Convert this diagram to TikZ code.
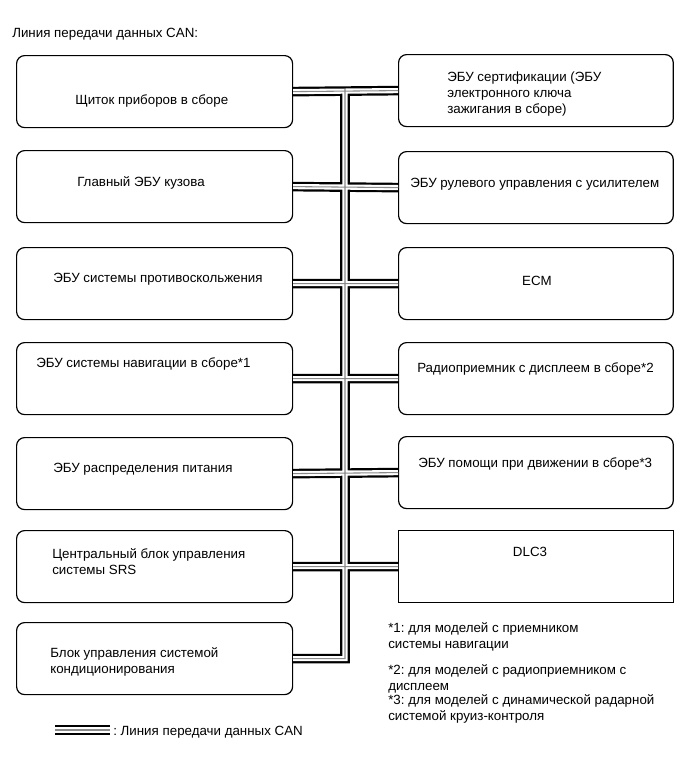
\documentclass[tikz,border=0pt]{standalone}
\usepackage{fontspec}
\setmainfont{Liberation Sans}
\frenchspacing
\usetikzlibrary{calc}
\definecolor{BusInk}{HTML}{000000}
\definecolor{BusCore}{HTML}{8A8A8A}
\tikzset{
  every node/.style={font=\fontsize{10}{12}\selectfont, text=black, inner sep=0pt},
  unit/.style={draw=black, line width=0.9pt, rounded corners=6pt, fill=white,
    anchor=north west, minimum height=54pt},
  leftunit/.style={unit, minimum width=207pt},
  rightunit/.style={unit, minimum width=206pt},
  caption/.style={anchor=base west, align=left},
  canbus/.style={draw=BusCore, line width=0.8pt,
    preaction={draw=BusInk, line width=7.2pt},
    preaction={draw=white, line width=3.9pt}},
}

\begin{document}
\begin{tikzpicture}[x=0.75pt, y=-0.75pt]
  \useasboundingbox (0,0) rectangle (690,757);
  \node[caption] (title) at (12,37) {Линия передачи данных CAN:};
  % Left column of control units
  \node[leftunit] (inst) at (16,55) {};
  \node[leftunit] (body) at (16,150) {};
  \node[leftunit] (vsc) at (16,247) {};
  \node[leftunit] (nav) at (16,342) {};
  \node[leftunit] (pwr) at (16,437) {};
  \node[leftunit] (srs) at (16,530) {};
  \node[leftunit] (ac) at (16,622) {};
  \node[caption] (instText) at (75,104) {Щиток приборов в сборе};
  \node[caption] (bodyText) at (77,186) {Главный ЭБУ кузова};
  \node[caption] (vscText) at (53,282) {ЭБУ системы противоскольжения};
  \node[caption] (navText) at (36,367) {ЭБУ системы навигации в сборе*1};
  \node[caption] (pwrText) at (53,472) {ЭБУ распределения питания};
  \node[caption] (srsText) at (52,574) {Центральный блок управления\\системы SRS};
  \node[caption] (acText) at (50,673) {Блок управления системой\\кондиционирования};
  % Right column of control units
  \node[rightunit] (cert) at (398,54) {};
  \node[rightunit] (eps) at (398,151) {};
  \node[rightunit] (ecm) at (398,247) {};
  \node[rightunit] (radio) at (398,342) {};
  \node[rightunit] (drive) at (398,436) {};
  \node[rightunit, rounded corners=0pt] (dlc) at (398,530) {};
  \node[caption] (certText) at (447,113)
    {ЭБУ сертификации (ЭБУ\\электронного ключа\\зажигания в сборе)};
  \node[caption] (epsText) at (410,187) {ЭБУ рулевого управления с усилителем};
  \node[anchor=base] (ecmText) at (537,285) {ECM};
  \node[caption] (radioText) at (417,372) {Радиоприемник с дисплеем в сборе*2};
  \node[caption] (driveText) at (418,467) {ЭБУ помощи при движении в сборе*3};
  \node[anchor=base] (dlcText) at (530,556) {DLC3};
  % CAN bus: one path so the junctions open into each other
  \coordinate (busTop) at (345,89);
  \path[canbus]
    (inst.east) -- (cert.west)
    (body.east) -- (eps.west)
    (vsc.east) -- (ecm.west)
    (nav.east) -- (radio.west)
    (pwr.east) -- (drive.west)
    (srs.east) -- (dlc.west)
    (ac.east) -| (busTop);
  % Footnotes
  \node[caption] (note1) at (388,648) {*1: для моделей с приемником\\системы навигации};
  \node[caption] (note2) at (388,690) {*2: для моделей с радиоприемником с\\дисплеем};
  \node[caption] (note3) at (388,720) {*3: для моделей с динамической радарной\\системой круиз-контроля};
  % Legend
  \coordinate (keyA) at (55,730);
  \coordinate (keyB) at (110,730);
  \path[canbus] (keyA) -- (keyB);
  \node[caption] (keyText) at (113,735) {: Линия передачи данных CAN};
\end{tikzpicture}
\end{document}
